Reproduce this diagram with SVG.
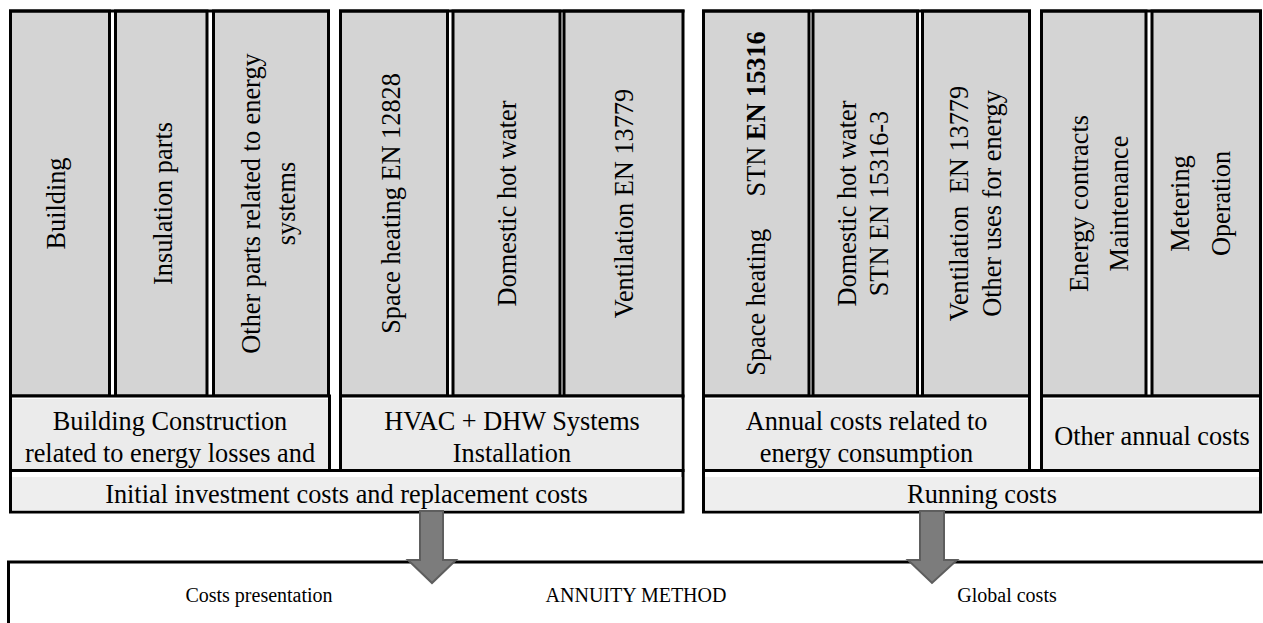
<svg xmlns="http://www.w3.org/2000/svg" width="1263" height="623" viewBox="0 0 1263 623">
<style>
.col{fill:#d4d4d4;stroke:#000;stroke-width:3}
.sub{fill:#fff;stroke:#000;stroke-width:3}
.sf{fill:#ebebeb}
.bf{fill:#eeeeee}
.t{font-family:"Liberation Serif","Times New Roman",serif;font-size:26.3px;fill:#000;text-anchor:middle}
.b{font-family:"Liberation Serif","Times New Roman",serif;font-size:20px;fill:#000;text-anchor:middle}
.arr{fill:#7c7c7c;stroke:#5e5e5e;stroke-width:2;stroke-linejoin:miter}
.ln{stroke:#000;stroke-width:3;fill:none}
</style>
<rect width="1263" height="623" fill="#fff"/>

<!-- Block A: columns 1-3 -->
<g id="col-building">
<rect class="col" x="10.5" y="11" width="99" height="385"/>
<text class="t" transform="translate(65,203.5) rotate(-90)">Building</text>
</g>
<g id="col-insulation">
<rect class="col" x="115.5" y="11" width="91.5" height="385"/>
<text class="t" transform="translate(171.5,203.5) rotate(-90)">Insulation parts</text>
</g>
<g id="col-other-parts">
<rect class="col" x="213.5" y="11" width="115" height="385"/>
<text class="t" transform="translate(259.5,203.5) rotate(-90)"><tspan x="0" y="0">Other parts related to energy</tspan><tspan x="0" y="35.5">systems</tspan></text>
</g>
<line class="ln" x1="9" y1="11" x2="330" y2="11"/>

<!-- Block B: columns 4-6 -->
<g id="col-space-heating-inst">
<rect class="col" x="340.5" y="11" width="107" height="385"/>
<text class="t" transform="translate(400,203.5) rotate(-90)">Space heating EN 12828</text>
</g>
<g id="col-dhw-inst">
<rect class="col" x="453" y="11" width="107" height="385"/>
<text class="t" transform="translate(516,203.5) rotate(-90)">Domestic hot water</text>
</g>
<g id="col-ventilation-inst">
<rect class="col" x="564" y="11" width="119" height="385"/>
<text class="t" transform="translate(633,203.5) rotate(-90)">Ventilation EN 13779</text>
</g>
<line class="ln" x1="339" y1="11" x2="684.5" y2="11"/>

<!-- Block C: columns 7-9 -->
<g id="col-space-heating-run">
<rect class="col" x="703.5" y="11" width="105.5" height="385"/>
<text class="t" transform="translate(765,203.5) rotate(-90)">Space heating <tspan dx="26">STN </tspan><tspan font-weight="bold">EN 15316</tspan></text>
</g>
<g id="col-dhw-run">
<rect class="col" x="813" y="11" width="104.5" height="385"/>
<text class="t" transform="translate(856,203.5) rotate(-90)"><tspan x="0" y="0">Domestic hot water</tspan><tspan x="0" y="32">STN EN 15316-3</tspan></text>
</g>
<g id="col-ventilation-run">
<rect class="col" x="922.5" y="11" width="107" height="385"/>
<text class="t" transform="translate(968,203.5) rotate(-90)"><tspan x="0" y="0">Ventilation <tspan dx="6">EN 13779</tspan></tspan><tspan x="0" y="33">Other uses for energy</tspan></text>
</g>
<line class="ln" x1="702" y1="11" x2="1031" y2="11"/>

<!-- Block D: columns 10-11 -->
<g id="col-energy-contracts">
<rect class="col" x="1041.5" y="11" width="104.5" height="385"/>
<text class="t" transform="translate(1088,203.5) rotate(-90)"><tspan x="0" y="0">Energy contracts</tspan><tspan x="0" y="40">Maintenance</tspan></text>
</g>
<g id="col-metering">
<rect class="col" x="1152" y="11" width="108.5" height="385"/>
<text class="t" transform="translate(1189,203.5) rotate(-90)"><tspan x="0" y="0">Metering</tspan><tspan x="0" y="41">Operation</tspan></text>
</g>
<line class="ln" x1="1040" y1="11" x2="1262" y2="11"/>

<!-- Sub headers -->
<g id="sub-building">
<rect class="sub" x="10.5" y="396" width="319" height="74.5"/>
<rect class="sf" x="12" y="399" width="316" height="70"/>
<text class="t" x="170" y="430">Building Construction</text>
<text class="t" x="170" y="462">related to energy losses and</text>
</g>
<g id="sub-hvac">
<rect class="sub" x="340.5" y="396" width="342.5" height="74.5"/>
<rect class="sf" x="342" y="399" width="339.5" height="70"/>
<text class="t" x="512" y="430">HVAC + DHW Systems</text>
<text class="t" x="512" y="462">Installation</text>
</g>
<g id="sub-annual">
<rect class="sub" x="703.5" y="396" width="326" height="74.5"/>
<rect class="sf" x="705" y="399" width="323" height="70"/>
<text class="t" x="866.5" y="430">Annual costs related to</text>
<text class="t" x="866.5" y="462">energy consumption</text>
</g>
<g id="sub-other-annual">
<rect class="sub" x="1041.5" y="396" width="219" height="74.5"/>
<rect class="sf" x="1043" y="399" width="216" height="70"/>
<text class="t" x="1152" y="445">Other annual costs</text>
</g>

<!-- Bottom bars -->
<g id="bar-initial">
<rect class="sub" x="10.5" y="470.5" width="672.5" height="41.5"/>
<rect class="bf" x="12" y="477" width="669.5" height="33.5"/>
<text class="t" x="346.5" y="503">Initial investment costs and replacement costs</text>
</g>
<g id="bar-running">
<rect class="sub" x="703.5" y="470.5" width="557" height="41.5"/>
<rect class="bf" x="705" y="477" width="554" height="33.5"/>
<text class="t" x="982" y="503">Running costs</text>
</g>

<!-- Annuity box -->
<g id="annuity">
<rect fill="#fff" stroke="#000" stroke-width="3" x="8.5" y="562" width="1270" height="100"/>
<text class="b" x="259" y="602">Costs presentation</text>
<text class="b" x="636" y="602">ANNUITY METHOD</text>
<text class="b" x="1007" y="602">Global costs</text>
</g>

<!-- Connectors -->
<g id="connectors">
<path class="arr" d="M420,511 L443,511 L443,560 L456,560 L432,583 L408,560 L420,560 Z"/>
<path class="arr" d="M920,511 L944,511 L944,560 L957,560 L932,583 L908,560 L920,560 Z"/>
</g>
</svg>
